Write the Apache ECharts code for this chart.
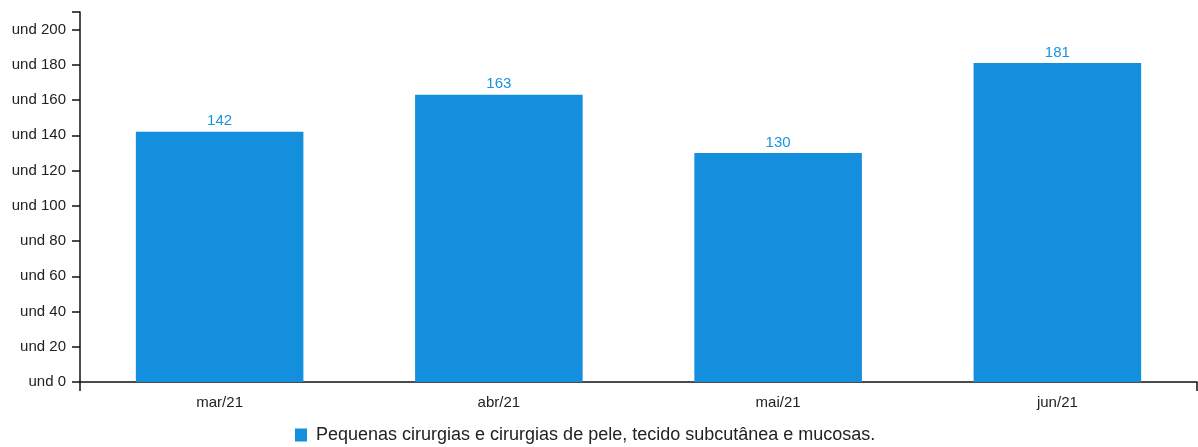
<!DOCTYPE html>
<html>
<head>
<meta charset="utf-8">
<script src="https://cdn.jsdelivr.net/npm/echarts@6/dist/echarts.min.js"></script>
<style>html,body{margin:0;padding:0;background:#fff}#c{width:1198px;height:447px}</style>
</head>
<body>
<div id="c"></div>
<script>
const categories = ['mar/21', 'abr/21', 'mai/21', 'jun/21'];
const seriesName = 'Pequenas cirurgias e cirurgias de pele, tecido subcutânea e mucosas.';
const values = [142, 163, 130, 181];
const yMax = 210;
const yInterval = 20;

const FONT = '"Liberation Sans", Arial, sans-serif';
const BLUE = '#138fdd';
const AX = '#111';
const chart = echarts.init(document.getElementById('c'));
chart.setOption({
  animation: false,
  textStyle: { fontFamily: FONT },
  grid: { left: 80, right: 1, top: 12, bottom: 65, containLabel: false },
  legend: {
    data: [seriesName],
    left: 295, top: 426, padding: 0,
    itemWidth: 12, itemHeight: 13, icon: 'rect',
    textStyle: { fontSize: 18, color: '#222', fontFamily: FONT, padding: [0, 0, 0, 4] }
  },
  xAxis: [{
    type: 'category', data: categories, position: 'bottom',
    axisLine: { lineStyle: { color: AX, width: 1.5 } },
    axisTick: { alignWithLabel: true, length: 8, lineStyle: { color: AX, width: 1.5 } },
    axisLabel: { fontSize: 15, color: '#222', margin: 13, fontFamily: FONT }
  }, {
    type: 'value', min: 0, max: 1, interval: 1, position: 'bottom',
    axisLine: { show: false },
    axisTick: { show: true, length: 9, lineStyle: { color: AX, width: 1.5 } },
    axisLabel: { show: false },
    splitLine: { show: false }
  }],
  yAxis: {
    type: 'value', min: 0, max: yMax, interval: yInterval,
    axisLine: { show: true, lineStyle: { color: AX, width: 1.5 } },
    axisTick: { show: true, length: 8, lineStyle: { color: AX, width: 1.5 } },
    splitLine: { show: false },
    axisLabel: {
      fontSize: 15, color: '#222', margin: 14, fontFamily: FONT,
      formatter: v => (v > 200 ? '' : 'und ' + v)
    }
  },
  series: [{
    name: seriesName, type: 'bar', data: values, barWidth: '60%',
    xAxisIndex: 0,
    itemStyle: { color: BLUE },
    label: { show: true, position: 'top', distance: 3, fontSize: 15, color: '#1a93e0', fontFamily: FONT }
  }]
});
</script>
</body>
</html>
